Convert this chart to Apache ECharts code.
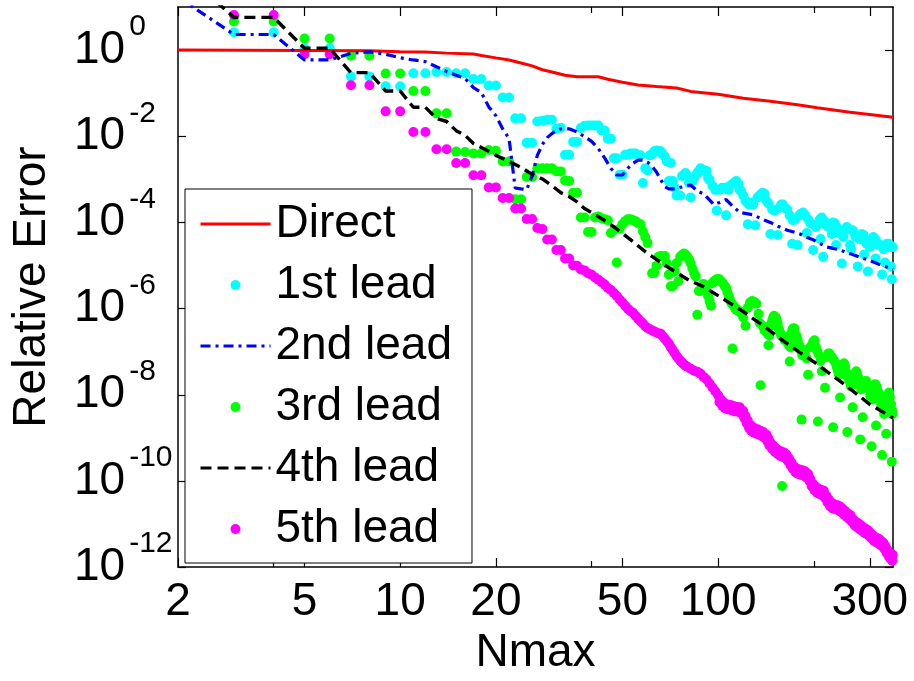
<!DOCTYPE html>
<html><head><meta charset="utf-8">
<script src="https://cdn.jsdelivr.net/npm/echarts@6/dist/echarts.min.js"></script>
<style>html,body{margin:0;padding:0;background:#fff}#c{width:914px;height:681px}</style>
</head><body><div id="c"></div>
<script>
// ---- tick labels ----
const xTickValues = [2, 5, 10, 20, 50, 100, 300];
const xMinorTickValues = [4, 40, 200];
const xLabelValues = [2, 5, 10, 20, 50, 100, 300];
const yTickValues = [1e-12, 1e-10, 1e-8, 1e-6, 1e-4, 1e-2, 1];
const seriesNames = ['Direct', '1st lead', '2nd lead', '3rd lead', '4th lead', '5th lead'];

// ---- data: [Nmax, relative error] ----
const direct = [[2,1.0],[8,0.97],[10,0.92],[12,0.90],[14,0.85],[17,0.81],[18,0.75],[20,0.66],[22,0.59],[24,0.50],[26,0.43],[28,0.35],[30,0.31],[33,0.26],[36,0.24],[42,0.24],[45,0.21],[50,0.18],[56,0.155],[64,0.143],[74,0.132],[82,0.11],[100,0.094],[120,0.076],[146,0.065],[180,0.053],[205,0.046],[260,0.036],[300,0.032],[355,0.0275]];

const lead1 = [[3,2.6],[4,2.6],[5,1.1],[6,1.1],[7,0.245],[8,0.245],[9,0.145],[10,0.145],[11,0.29],[12,0.29],[13,0.31],[14,0.31],[15,0.29],[16,0.29],[17,0.214],[18,0.214],[19,0.15],[20,0.15],[21,0.079],[22,0.079],[23,0.026],[24,0.026],[25,7.1e-3],[26,7.1e-3],[27,0.022],[28,0.023],[29,0.024],[30,0.024],[31,0.0149],[32,0.0157],[33,3.7e-3],[34,3.7e-3],[35,7.4e-3],[36,7.4e-3],[37,0.0155],[38,0.0175],[39,0.0177],[40,0.0177],[41,0.0177],[42,0.0177],[43,0.0136],[44,0.0136],[45,8.8e-3],[46,8.8e-3],[47,3.1e-3],[48,3.1e-3],[49,1.28e-3],[50,1.28e-3],[51,3.7e-3],[52,3.7e-3],[53,4.0e-3],[54,4.0e-3],[55,4.0e-3],
[56,3.6e-3],[57,3.6e-3],[58,8.2e-4],[59,1.8e-3],[60,1.6e-3],[61,3.6e-3],[62,3.8e-3],[63,4.5e-3],[64,4.7e-3],[65,4.5e-3],[66,4.5e-3],[67,3.8e-3],[68,3.4e-3],[69,2.6e-3],[70,9.1e-4],[71,2.4e-3],[72,9.1e-4],[73,6.4e-4],[74,4.2e-4],[76,4.2e-4],[77,1.2e-3],[78,1.26e-3],[79,1.4e-3],[80,1.2e-3],[81,8.2e-4],[82,3.8e-4],[83,9.1e-4],[84,1.07e-3],[85,1.2e-3],[86,1.4e-3],[87,1.55e-3],[88,1.8e-3],[89,1.7e-3],[90,1.6e-3],[91,1.6e-3],[92,1.55e-3],[93,1.07e-3],[94,9.7e-4],[96,7.1e-4],[98,5.7e-4],[99,1.9e-4],[101,5.7e-4],[103,6.4e-4],[105,6.4e-4],[106,1.46e-4],[108,5.7e-4],[109,7.1e-4],[111,7.8e-4],[113,8.7e-4],[114,9.1e-4],[116,7.8e-4],[117,5.7e-4],[118,5.4e-4],[120,4.2e-4],[122,3.2e-4],[124,9.1e-5],[125,2.6e-4],[127,2.9e-4],[129,2.6e-4],[131,8.6e-5],[133,3.8e-4],[135,4.2e-4],[137,4.6e-4],[138,4.9e-4],[140,4.6e-4],[142,3.2e-4],[144,2.75e-4],[146,5.4e-5],[148,2.0e-4],[150,1.9e-4],[151,1.9e-4],[154,5.1e-5],[156,2.2e-4],[158,2.6e-4],[160,2.6e-4],[162,2.2e-4],[165,2.0e-4],[168,1.46e-4],[171,3.2e-5],[172,1.12e-4],[175,1.18e-4],[178,3.0e-5],[180,1.46e-4],[183,1.62e-4],[185,1.7e-4],[188,1.46e-4],[190,5.7e-5],[192,1.18e-4],[195,9.6e-5],[199,2.3e-5],[203,7.8e-5],[206,9.6e-5],[209,1.18e-4],[210,4.1e-5],[212,1.3e-4],[214,1.6e-5],[216,1.07e-4],[219,8.6e-5],[222,7.8e-5],[225,8.6e-5],[228,5.4e-5],[230,1.0e-4],[233,9.6e-5],[235,3.0e-5],[236,7.8e-5],[240,5.7e-5],[245,1.11e-5],[248,4.6e-5],[251,6.6e-5],[254,7.8e-5],[257,7.0e-5],[260,3.0e-5],[262,2.4e-5],[265,6.6e-5],[268,5.7e-5],[271,4.6e-5],[275,9.5e-6],[279,4.1e-5],[283,5.4e-5],[287,5.1e-5],[288,1.8e-5],[290,4.1e-5],[293,3.2e-5],[296,7.3e-6],[300,2.7e-5],[304,3.9e-5],[308,4.6e-5],[312,4.1e-5],[313,1.45e-5],[316,3.5e-5],[320,3.0e-5],[324,3.0e-5],[328,6.2e-6],[332,2.4e-5],[335,1.17e-5],[336,2.7e-5],[340,3.2e-5],[344,3.2e-5],[348,2.7e-5],[350,9.5e-6],[352,4.8e-6],[354,2.7e-5]];

const lead2 = [[2,17],[3,2.3],[4,2.3],[5,0.59],[6,0.59],[7,0.84],[8,0.91],[9,0.80],[10,0.66],[11,0.59],[12,0.54],[13,0.41],[14,0.32],[15,0.26],[16,0.22],[17,0.135],[18,0.104],[19,0.048],[20,0.030],[21,0.0149],[22,0.0089],[23,6.3e-4],[24,6.0e-4],[25,5.8e-4],[26,1.2e-3],[27,3.6e-3],[28,6.4e-3],[29,9.3e-3],[30,0.0115],[31,0.0135],[32,0.0149],[34,0.0149],[36,0.0126],[38,9.8e-3],[40,7.6e-3],[42,5.2e-3],[44,3.1e-3],[46,1.8e-3],[48,1.26e-3],[50,1.26e-3],[52,1.8e-3],[54,2.36e-3],[56,2.8e-3],[58,2.8e-3],[60,2.5e-3],[62,2.0e-3],[64,1.48e-3],[66,9.8e-4],[68,6.8e-4],[70,6.0e-4],[74,6.0e-4],[78,7.0e-4],[82,7.4e-4],[86,5.4e-4],[90,4.6e-4],[93,3.6e-4],[97,2.6e-4],[101,2.9e-4],[106,3.4e-4],[111,2.4e-4],[117,1.7e-4],[123,1.6e-4],[129,1.5e-4],[137,1.2e-4],[146,1.0e-4],[155,8.0e-5],[165,6.6e-5],[173,6.0e-5],[181,5.4e-5],[190,4.5e-5],[200,3.9e-5],[210,3.2e-5],[219,2.7e-5],[230,2.5e-5],[242,2.3e-5],[253,2.0e-5],[265,1.8e-5],[280,1.55e-5],[294,1.37e-5],[308,1.2e-5],[322,1.05e-5],[338,9.3e-6],[355,8.1e-6]];

const lead3 = [[3,4.6],[4,4.6],[5,1.85],[6,1.85],[7,0.74],[8,0.74],[9,0.287],[10,0.287],[11,0.112],[12,0.112],[13,0.034],[14,0.034],[15,4.4e-3],[16,4.3e-3],[17,4.0e-3],[18,4.0e-3],[19,4.8e-3],[20,4.6e-3],[21,2.6e-3],[22,2.6e-3],[23,3.45e-4],[24,3.45e-4],[25,1.13e-3],[26,1.13e-3],[27,1.8e-3],[28,1.8e-3],[29,1.8e-3],[30,1.8e-3],[31,1.55e-3],[32,1.53e-3],[33,9.4e-4],[34,9.2e-4],[35,4.9e-4],[36,4.9e-4],[37,1.3e-4],[38,1.3e-4],[39,6.0e-5],[40,6.0e-5],[41,1.3e-4],[42,1.38e-4],[43,1.25e-4],[44,1.18e-4],[45,1.12e-4],[46,5.7e-5],[47,6.6e-5],[48,1.17e-5],[49,7.1e-5],[50,9.1e-5],[51,1.07e-4],[52,1.18e-4],[53,1.18e-4],[54,1.12e-4],[55,1.07e-4],[56,9.6e-5],[57,9.1e-5],[58,6.2e-5],[59,4.6e-5],[60,3.35e-5],[62,6.6e-6],[63,6.8e-6],[64,9.8e-6],[65,1.6e-5],[66,1.66e-5],[67,1.6e-5],[68,1.66e-5],[69,1.11e-5],[70,6.2e-6],[71,3.3e-6],[72,3.3e-6],[73,7.3e-6],[74,1.13e-5],[75,4.3e-6],[76,1.6e-5],[77,1.75e-5],[78,1.9e-5],[79,1.8e-5],[80,1.6e-5],[81,1.37e-5],[82,1.13e-5],[83,8.5e-6],[84,6.8e-6],[85,5.6e-6],[86,7.2e-7],[87,2.55e-6],[88,2.55e-6],[89,3.0e-6],[90,3.7e-6],[91,3.0e-6],[92,2.55e-6],[93,1.96e-6],[94,1.5e-6],[95,1.16e-6],[96,3.9e-6],[97,4.3e-6],[98,4.5e-6],[99,4.8e-6],[100,4.8e-6],[101,4.8e-6],[102,4.3e-6],[103,4.1e-6],[104,3.7e-6],[105,3.3e-6],[106,3.0e-6],[107,2.4e-6],[108,1.96e-6],[109,1.6e-6],[110,1.36e-6],[111,1.19e-7],[112,1.16e-6],[113,1.04e-6],[114,9.4e-7],[115,9.4e-7],[116,8.9e-7],[117,8.4e-7],[118,8.0e-7],[120,6.2e-7],[122,4.0e-7],[124,1.04e-6],[126,1.38e-6],[128,1.5e-6],[130,1.43e-6],[132,1.29e-6],[134,7.6e-7],[135,4.7e-7],[136,1.66e-8],[138,4.0e-7],[140,3.1e-7],[143,2.6e-7],[144,1.41e-7],[145,2.4e-7],[146,4.0e-7],[147,4.5e-7],[148,5.3e-7],[149,6.2e-7],[150,6.8e-7],[152,6.2e-7],[153,5.3e-7],[154,4.5e-7],[155,3.45e-7],[156,3.0e-7],[157,2.65e-7],[158,2.4e-7],[159,7.6e-11],[160,2.15e-7],[162,1.84e-7],[164,2.2e-7],[166,1.84e-7],[167,1.41e-7],[168,5.9e-8],[169,1.27e-7],[170,2.65e-7],[171,3.1e-7],[172,3.45e-7],[173,3.45e-7],[174,3.45e-7],[176,2.4e-7],[177,2.15e-7],[178,1.84e-7],[180,1.41e-7],[182,1.09e-7],[183,2.65e-9],[184,8.3e-8],[186,1.09e-7],[188,8.3e-8],[190,7.0e-8],[192,2.9e-8],[195,1.27e-7],[197,1.41e-7],[199,1.68e-7],[201,1.84e-7],[203,1.29e-7],[205,1.03e-7],[206,2.4e-9],[208,8.3e-8],[210,6.1e-8],[212,3.5e-8],[217,1.45e-8],[220,7.5e-8],[222,9.1e-8],[224,9.1e-8],[226,7.5e-8],[228,7.5e-8],[230,1.77e-9],[231,6.4e-8],[234,5.5e-8],[236,4.45e-8],[238,3.6e-8],[240,2.9e-8],[242,8.6e-9],[244,3.8e-8],[246,4.45e-8],[249,5.4e-8],[251,4.45e-8],[252,2.9e-8],[254,3.25e-8],[255,1.36e-9],[258,2.25e-8],[260,1.92e-8],[262,1.55e-8],[265,5.1e-9],[268,2.6e-8],[270,3.1e-8],[272,3.5e-8],[274,2.9e-8],[276,2.5e-8],[278,1.73e-8],[280,9.2e-10],[282,1.33e-8],[285,3.0e-9],[288,1.73e-8],[290,2.05e-8],[292,2.1e-8],[295,1.48e-8],[297,1.55e-8],[299,1.33e-8],[301,9.2e-9],[304,6.4e-10],[305,7.8e-9],[308,1.26e-8],[310,1.55e-8],[311,1.73e-8],[313,1.73e-8],[314,1.93e-9],[315,1.55e-8],[317,1.33e-8],[319,1.13e-8],[321,1.02e-8],[323,7.8e-9],[326,6.0e-9],[328,4.0e-10],[333,3.6e-9],[336,6.7e-9],[338,1.25e-9],[339,4.25e-9],[341,6.7e-9],[342,7.8e-9],[344,1.02e-8],[345,1.13e-8],[347,9.0e-9],[349,6.0e-9],[350,6.0e-9],[352,2.8e-10],[353,4.25e-9],[354,3.6e-9]];

const lead4 = [[2,80],[3,5.75],[4,5.75],[5,1.1],[6,1.1],[7,0.30],[8,0.30],[9,0.112],[10,0.112],[11,0.047],[12,0.047],[13,0.026],[14,0.022],[15,0.0135],[16,0.0105],[17,0.0068],[18,0.0055],[19,0.0045],[20,0.0036],[22,0.0026],[24,0.0019],[26,0.0013],[28,1.02e-3],[30,7.1e-4],[32,4.9e-4],[34,4.0e-4],[36,3.0e-4],[38,2.1e-4],[40,1.7e-4],[45,1.0e-4],[50,5.6e-5],[55,3.2e-5],[60,1.9e-5],[70,8.9e-6],[80,4.8e-6],[90,3.2e-6],[100,2.0e-6],[120,8.5e-7],[140,3.8e-7],[160,1.8e-7],[180,9.8e-8],[200,5.8e-8],[250,1.74e-8],[300,6.0e-9],[355,2.9e-9]];

const lead5 = [[3,6.5],[4,6.5],[5,0.80],[6,0.80],[7,0.153],[8,0.153],[9,0.0378],[10,0.0378],[11,0.0125],[12,0.0125],[13,5.0e-3],[14,5.0e-3],[15,2.4e-3],[16,2.4e-3],[17,1.24e-3],[18,1.24e-3],[19,6.5e-4],[20,6.5e-4],[21,3.7e-4],[22,3.7e-4],[23,2.1e-4],[24,2.1e-4],[25,1.2e-4],[26,1.2e-4],[27,7.4e-5],[28,7.0e-5],[29,4.0e-5],[30,4.0e-5],[31,2.3e-5],[32,2.3e-5],[33,1.45e-5],[34,1.45e-5],[35,1.0e-5],[36,9.9e-6],[37,8.1e-6],[38,7.7e-6],[39,6.6e-6],[40,6.1e-6],[41,5.3e-6],[42,4.7e-6],[43,4.1e-6],[44,3.6e-6],[45,3.0e-6],[46,2.7e-6],[47,2.3e-6],[48,1.96e-6],[49,1.63e-6],[50,1.38e-6],[51,1.16e-6],[52,9.9e-7],[53,8.7e-7],[54,8.0e-7],[55,6.8e-7],[56,5.85e-7],[57,5.1e-7],[58,4.5e-7],[59,3.9e-7],[60,3.55e-7],[61,3.3e-7],[62,3.1e-7],[63,2.95e-7],[64,2.8e-7],[65,2.65e-7],[66,2.6e-7],[67,2.27e-7],[68,1.99e-7],[69,1.75e-7],[70,1.53e-7],[71,1.27e-7],[72,1.09e-7],[73,9.3e-8],[74,7.9e-8],[75,7.0e-8],[76,6.2e-8],[77,5.6e-8],[78,5.1e-8],[79,4.7e-8],[80,4.45e-8],[82,4.0e-8],[84,3.6e-8],[86,3.4e-8],[88,3.1e-8],[90,2.6e-8],[92,2.25e-8],[94,1.82e-8],[96,1.48e-8],[98,1.2e-8],[100,9.7e-9],[102,7.8e-9],[104,6.7e-9],[106,6.0e-9],[108,5.9e-9],[110,5.7e-9],[112,5.4e-9],[114,5.3e-9],[117,5.1e-9],[120,4.2e-9],[122,3.2e-9],[124,2.5e-9],[126,2.0e-9],[128,1.8e-9],[130,1.66e-9],[133,1.58e-9],[136,1.46e-9],[139,1.35e-9],[142,1.18e-9],[144,9.6e-10],[146,7.8e-10],[149,6.6e-10],[152,5.7e-10],[155,5.1e-10],[158,4.8e-10],[161,4.6e-10],[164,4.1e-10],[167,3.35e-10],[170,2.7e-10],[173,2.2e-10],[176,1.98e-10],[180,1.83e-10],[184,1.78e-10],[188,1.65e-10],[192,1.45e-10],[195,1.11e-10],[199,8.5e-11],[203,7.3e-11],[207,6.6e-11],[211,6.2e-11],[215,5.9e-11],[219,4.5e-11],[223,3.7e-11],[227,3.15e-11],[231,2.9e-11],[236,2.76e-11],[241,2.6e-11],[246,2.3e-11],[251,2.0e-11],[256,1.76e-11],[261,1.59e-11],[266,1.29e-11],[271,1.13e-11],[276,1.04e-11],[281,9.4e-12],[286,8.4e-12],[291,7.8e-12],[296,7.2e-12],[301,6.3e-12],[306,5.55e-12],[311,5.0e-12],[316,4.75e-12],[321,4.5e-12],[326,4.05e-12],[331,3.65e-12],[336,3.1e-12],[341,2.5e-12],[346,2.15e-12],[350,1.94e-12],[352,1.66e-12],[354,1.94e-12],
[101,6.7e-9],[103,5.6e-9],[105,4.9e-9],[107,4.6e-9],[109,4.5e-9],[111,4.3e-9],[113,4.1e-9],[116,4.0e-9],[119,3.6e-9],[121,2.85e-9],[123,2.2e-9],[125,1.73e-9],[127,1.46e-9],[129,1.33e-9],[132,1.25e-9],[135,1.17e-9],[138,1.08e-9],[141,9.7e-10],[143,8.2e-10],[145,6.7e-10],[148,5.5e-10],[151,4.7e-10],[154,4.2e-10],[157,3.8e-10],[160,3.6e-10],[163,3.35e-10],[166,2.85e-10],[169,2.3e-10],[172,1.9e-10],[175,1.6e-10],[178,1.47e-10],[182,1.39e-10],[186,1.32e-10],[190,1.19e-10],[194,9.9e-11],[197,7.5e-11],[201,6.1e-11],[205,5.35e-11],[209,4.9e-11],[213,4.65e-11],[217,4.0e-11],[221,3.15e-11],[225,2.6e-11],[229,2.3e-11],[234,2.2e-11],[239,2.05e-11],[244,1.9e-11],[249,1.65e-11],[254,1.45e-11],[259,1.29e-11],[264,1.11e-11],[269,9.3e-12],[274,8.3e-12],[279,7.6e-12],[284,6.9e-12],[289,6.2e-12],[294,5.8e-12],[299,5.2e-12],[304,4.6e-12],[309,4.1e-12],[314,3.8e-12],[319,3.55e-12],[324,3.3e-12],[329,3.0e-12],[334,2.6e-12],[339,2.15e-12],[344,1.8e-12],[348,1.58e-12],[353,1.4e-12]];

// ---- chart ----
const FONT = '"Liberation Sans", Arial, Helvetica, sans-serif';
const chart = echarts.init(document.getElementById('c'), null, {renderer: 'canvas', width: 914, height: 681});
const frameLine = {show: true, onZero: false, lineStyle: {color: '#000', width: 1.5}};
const tickStyle = {color: '#000', width: 1.2};

function xAxisDef(pos, withLabels, ticks, len, lineOn) {
  return {
    type: 'log', logBase: 10, min: 2, max: 355, position: pos,
    axisLine: lineOn ? frameLine : {show: false},
    axisTick: {show: true, inside: true, length: len, customValues: ticks, lineStyle: tickStyle},
    axisLabel: withLabels ? {
      show: true, customValues: xLabelValues, margin: 12, color: '#000', fontSize: 46, fontFamily: FONT,
      formatter: v => String(Math.round(v))
    } : {show: false},
    splitLine: {show: false}, minorTick: {show: false}, minorSplitLine: {show: false},
    name: withLabels ? 'Nmax' : '', nameLocation: 'middle', nameGap: 61,
    nameTextStyle: {color: '#000', fontSize: 46, fontFamily: FONT}
  };
}
function yAxisDef(pos, withLabels) {
  return {
    type: 'log', logBase: 10, min: 1e-12, max: 10, position: pos,
    axisLine: frameLine,
    axisTick: {show: true, inside: true, length: 8, customValues: yTickValues, lineStyle: tickStyle},
    axisLabel: withLabels ? {
      show: true, customValues: yTickValues, align: 'left', margin: 104,
      formatter: v => '{b|10}{s|' + Math.round(Math.log10(v)) + '}',
      rich: {
        b: {fontSize: 46, fontFamily: FONT, color: '#000', lineHeight: 46, verticalAlign: 'middle'},
        s: {fontSize: 30, fontFamily: FONT, color: '#000', verticalAlign: 'top', padding: [0, 0, 46, 4]}
      }
    } : {show: false},
    splitLine: {show: false}, minorTick: {show: false}, minorSplitLine: {show: false},
    name: withLabels ? 'Relative Error' : '', nameLocation: 'middle', nameGap: 123,
    nameTextStyle: {color: '#000', fontSize: 46, fontFamily: FONT}
  };
}

const legendLine = w => ({width: w});
const option = {
  animation: false,
  backgroundColor: '#fff',
  textStyle: {fontFamily: FONT},
  grid: {left: 178, top: 7, width: 715, height: 569.5, containLabel: false},
  xAxis: [
    xAxisDef('bottom', true, xTickValues, 9, true),
    xAxisDef('top', false, xTickValues, 9, true),
    xAxisDef('bottom', false, xMinorTickValues, 6, false),
    xAxisDef('top', false, xMinorTickValues, 6, false)
  ],
  yAxis: [yAxisDef('left', true), yAxisDef('right', false)],
  legend: {
    orient: 'vertical', left: 185, top: 189,
    itemWidth: 70, itemHeight: 10, itemGap: 15,
    padding: [12, 20, 11, 14],
    backgroundColor: '#fff', borderColor: '#000', borderWidth: 1, borderRadius: 0,
    selectedMode: false,
    textStyle: {color: '#000', fontSize: 46, fontFamily: FONT, lineHeight: 46},
    data: [
      {name: seriesNames[0], itemStyle: {opacity: 0}, lineStyle: legendLine(3)},
      {name: seriesNames[1]},
      {name: seriesNames[2], itemStyle: {opacity: 0}, lineStyle: legendLine(3)},
      {name: seriesNames[3]},
      {name: seriesNames[4], itemStyle: {opacity: 0}, lineStyle: legendLine(3)},
      {name: seriesNames[5]}
    ]
  },
  series: [
    {name: seriesNames[0], type: 'line', data: direct, symbol: 'none', clip: true,
     lineStyle: {color: '#ff0000', width: 3}, itemStyle: {color: '#ff0000'}},
    {name: seriesNames[1], type: 'scatter', data: lead1, symbol: 'circle', symbolSize: 10,
     itemStyle: {color: '#00ffff', opacity: 1}},
    {name: seriesNames[2], type: 'line', data: lead2, symbol: 'none', clip: true,
     lineStyle: {color: '#0000ff', width: 3.2, type: [10, 5, 3, 5]}, itemStyle: {color: '#0000ff'}},
    {name: seriesNames[3], type: 'scatter', data: lead3, symbol: 'circle', symbolSize: 10,
     itemStyle: {color: '#00ff00', opacity: 1}},
    {name: seriesNames[4], type: 'line', data: lead4, symbol: 'none', clip: true,
     lineStyle: {color: '#000000', width: 3.4, type: [11, 6]}, itemStyle: {color: '#000000'}},
    {name: seriesNames[5], type: 'scatter', data: lead5, symbol: 'circle', symbolSize: 10,
     itemStyle: {color: '#ff00ff', opacity: 1}}
  ]
};
chart.setOption(option);
</script>
</body></html>
